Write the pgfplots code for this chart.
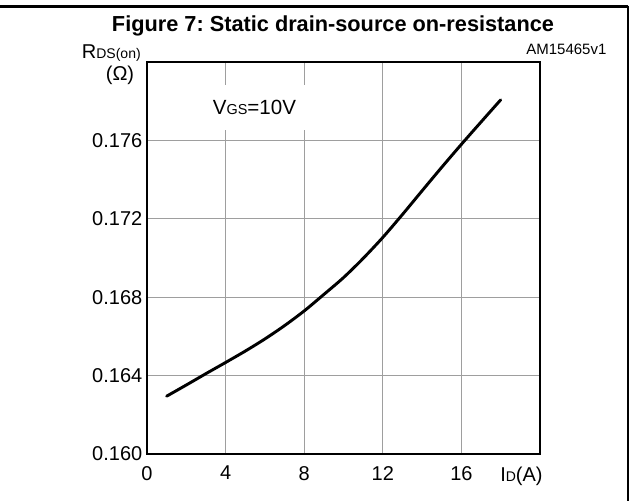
\documentclass[border=0pt]{standalone}
\usepackage{pgfplots}
\pgfplotsset{compat=1.18}
\usepackage{fontspec}
\setmainfont{Liberation Sans}
\frenchspacing
\begin{document}
\begin{tikzpicture}
\begin{axis}[
  at={(110.25pt,35.25pt)}, anchor=south west,
  width=294.75pt, height=294pt, scale only axis,
  xmin=0, xmax=20, ymin=0.160, ymax=0.180,
  xtick={0,4,8,12,16},
  ytick={0.160,0.164,0.168,0.172,0.176},
  yticklabel style={/pgf/number format/.cd,fixed,fixed zerofill,precision=3},
  xticklabel style={yshift=-5.5pt},
  scaled y ticks=false,
  /pgf/number format/assume math mode=true,
  tick label style={font=\fontsize{15}{15}\selectfont},
  major tick length=0pt,
  grid=major,
  major grid style={line width=0.8pt, color=black!38},
  axis line style={line width=1.6pt},
  clip=false,
]
\addplot[line width=2.2pt, black, smooth, line cap=round] coordinates {
(1,0.16295) (2,0.16352) (3,0.16410) (4,0.16467) (5,0.16525) (6,0.16587)
(7,0.16655) (8,0.16730) (9,0.16814) (10,0.16900) (11,0.16998) (12,0.17105)
(13,0.17222) (14,0.17343) (15,0.17463) (16,0.17580) (17,0.17694) (18,0.17807)
};
\end{axis}
% white box behind the annotation
\fill[white] (154.5pt,278.25pt) rectangle (234pt,312pt);
\node[anchor=base west, inner sep=0pt, font=\fontsize{15.4}{15.4}\selectfont] at (159.5pt,289.5pt) {V{\fontsize{10.8}{10.8}\selectfont GS}=10V};
% title and frame
\draw[line width=2.25pt] (0,370.5pt) -- (471pt,370.5pt);
\draw[line width=1.5pt] (471pt,371.6pt) -- (471pt,0);
\node[anchor=base, inner sep=0pt, font=\bfseries\fontsize{16.3}{16.3}\selectfont] at (249.75pt,352pt) {Figure 7: Static drain-source on-resistance};
\node[anchor=base east, inner sep=0pt, font=\fontsize{11.25}{11.25}\selectfont] at (455pt,334.5pt) {AM15465v1};
\node[anchor=base east, inner sep=0pt, font=\fontsize{15}{15}\selectfont] at (105.75pt,331.5pt) {R{\fontsize{10.5}{10.5}\selectfont DS(on)}};
\node[anchor=base, inner sep=0pt, font=\fontsize{15}{15}\selectfont] at (90pt,315.2pt) {(Ω)};
\node[anchor=base west, inner sep=0pt, font=\fontsize{15}{15}\selectfont] at (375pt,15pt) {I{\fontsize{10.5}{10.5}\selectfont D}(A)};
\pgfresetboundingbox
\useasboundingbox (0,0) rectangle (471.75pt,375.75pt);
\end{tikzpicture}
\end{document}
